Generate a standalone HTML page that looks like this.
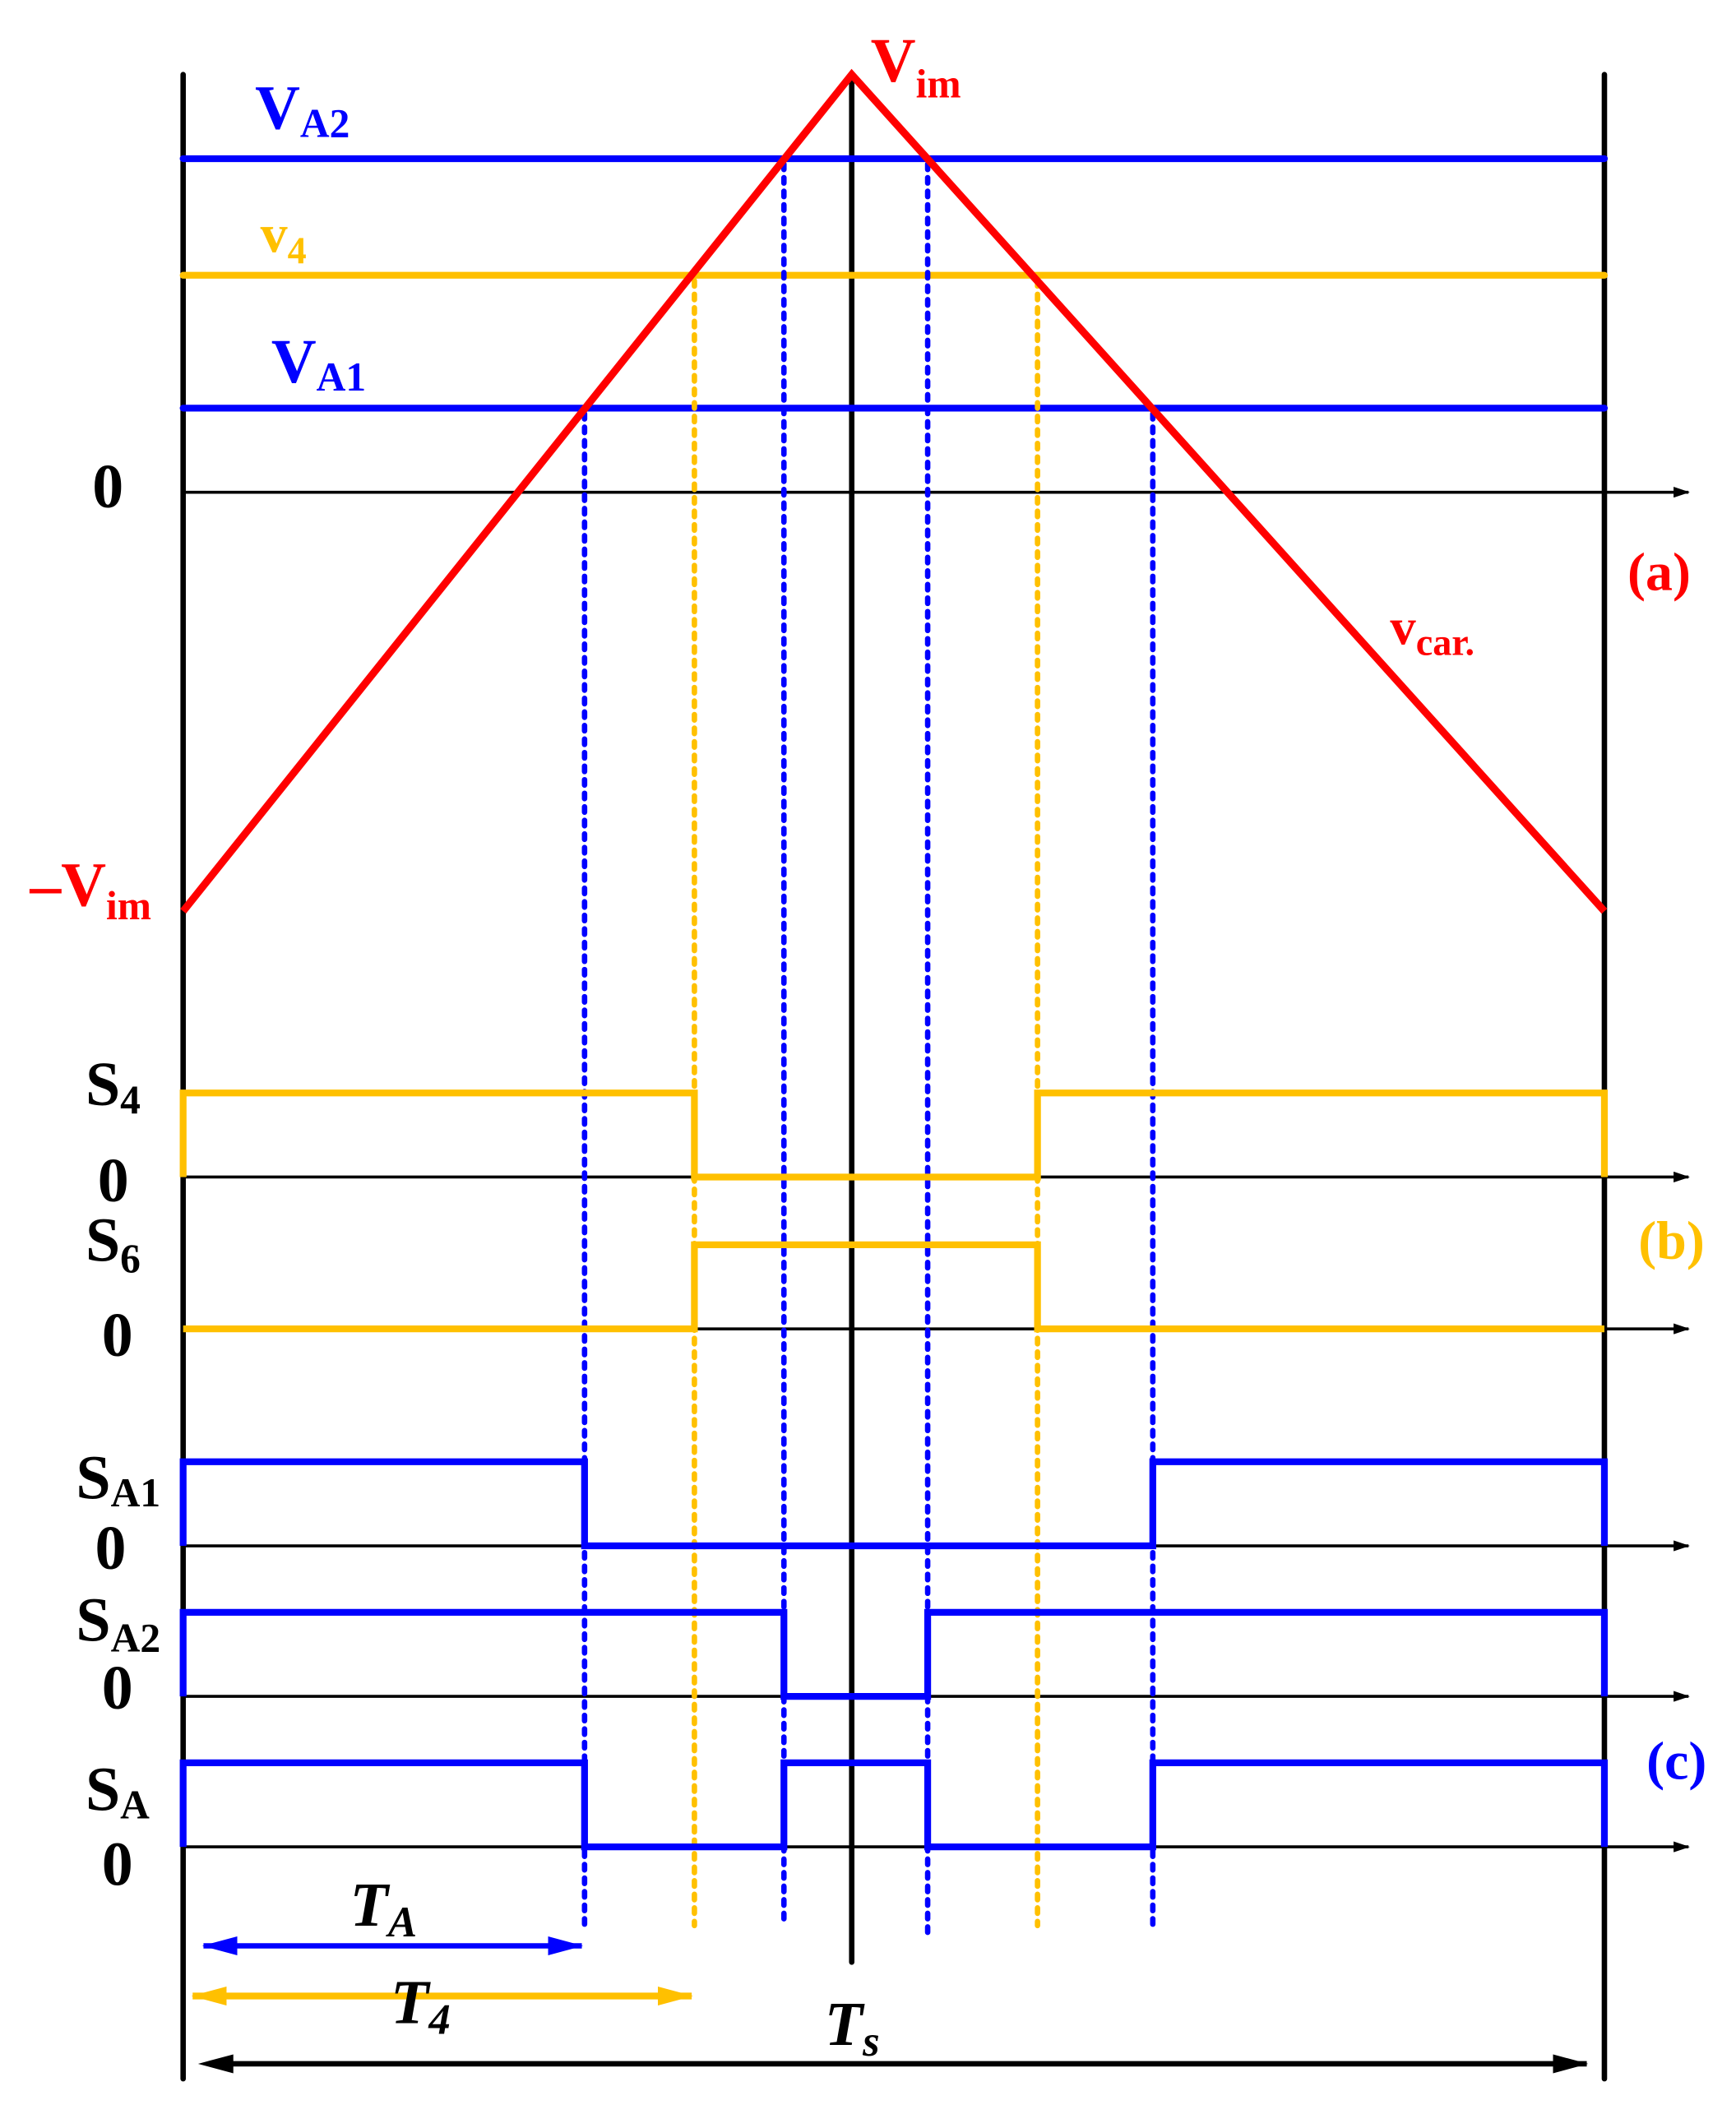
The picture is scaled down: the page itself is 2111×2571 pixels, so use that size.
<!DOCTYPE html>
<html><head><meta charset="utf-8"><style>
html,body{margin:0;padding:0;background:#fff;}
svg{display:block;}
text{font-family:"Liberation Serif",serif;font-weight:bold;}
</style></head><body>
<svg width="2111" height="2571" viewBox="0 0 1280 1559" xmlns="http://www.w3.org/2000/svg">
<defs>
<marker id="ak" markerWidth="12" markerHeight="8" refX="11" refY="4" orient="auto" markerUnits="userSpaceOnUse"><path d="M0,0 L12,4 L0,8 Z" fill="#000"/></marker>
<marker id="akL" markerWidth="26" markerHeight="14" refX="25" refY="7" orient="auto" markerUnits="userSpaceOnUse"><path d="M0,0 L26,7 L0,14 Z" fill="#000"/></marker>
<marker id="ab" markerWidth="26" markerHeight="14" refX="25" refY="7" orient="auto-start-reverse" markerUnits="userSpaceOnUse"><path d="M0,0 L26,7 L0,14 Z" fill="#0000ff"/></marker>
<marker id="ao" markerWidth="26" markerHeight="14" refX="25" refY="7" orient="auto-start-reverse" markerUnits="userSpaceOnUse"><path d="M0,0 L26,7 L0,14 Z" fill="#ffc000"/></marker>
</defs>
<g stroke="#000" stroke-width="4" stroke-linecap="round">
<line x1="135" y1="55" x2="135" y2="1533"/>
<line x1="1183" y1="55" x2="1183" y2="1533"/>
<line x1="628" y1="60" x2="628" y2="1447"/>
</g>
<g stroke="#000" stroke-width="2.2">
<line x1="135" y1="363" x2="1245" y2="363" marker-end="url(#ak)"/>
<line x1="135" y1="868" x2="1245" y2="868" marker-end="url(#ak)"/>
<line x1="135" y1="980" x2="1245" y2="980" marker-end="url(#ak)"/>
<line x1="135" y1="1140" x2="1245" y2="1140" marker-end="url(#ak)"/>
<line x1="135" y1="1251" x2="1245" y2="1251" marker-end="url(#ak)"/>
<line x1="135" y1="1362" x2="1245" y2="1362" marker-end="url(#ak)"/>
</g>
<g stroke-width="5" stroke-linecap="round">
<line x1="135" y1="117" x2="1183" y2="117" stroke="#0000ff"/>
<line x1="135" y1="203" x2="1183" y2="203" stroke="#ffc000"/>
<line x1="135" y1="301" x2="1183" y2="301" stroke="#0000ff"/>
</g>
<g stroke-width="4" stroke-dasharray="4 6" stroke-linecap="round" fill="none">
<line x1="431" y1="305" x2="431" y2="1420" stroke="#0000ff"/>
<line x1="512" y1="207" x2="512" y2="1420" stroke="#ffc000"/>
<line x1="578" y1="121" x2="578" y2="1420" stroke="#0000ff"/>
<line x1="684" y1="121" x2="684" y2="1425" stroke="#0000ff"/>
<line x1="765" y1="207" x2="765" y2="1420" stroke="#ffc000"/>
<line x1="850" y1="305" x2="850" y2="1420" stroke="#0000ff"/>
</g>
<polyline points="135,672 628,55 1183,672" fill="none" stroke="#ff0000" stroke-width="5.5"/>
<g fill="none" stroke-width="5">
<polyline stroke="#ffc000" points="135,868 135,806 512,806 512,868 765,868 765,806 1183,806 1183,868"/>
<polyline stroke="#ffc000" points="135,980 512,980 512,918 765,918 765,980 1183,980"/>
<polyline stroke="#0000ff" points="135,1140 135,1078 431,1078 431,1140 850,1140 850,1078 1183,1078 1183,1140"/>
<polyline stroke="#0000ff" points="135,1251 135,1189 578,1189 578,1251 684,1251 684,1189 1183,1189 1183,1251"/>
<polyline stroke="#0000ff" points="135,1362 135,1300 431,1300 431,1362 578,1362 578,1300 684,1300 684,1362 850,1362 850,1300 1183,1300 1183,1362"/>
</g>
<line x1="150" y1="1435" x2="429" y2="1435" stroke="#0000ff" stroke-width="4" marker-start="url(#ab)" marker-end="url(#ab)"/>
<line x1="142" y1="1472" x2="510" y2="1472" stroke="#ffc000" stroke-width="5" marker-start="url(#ao)" marker-end="url(#ao)"/>
<line x1="160" y1="1522" x2="1170" y2="1522" stroke="#000" stroke-width="4" marker-end="url(#akL)"/>
<path d="M146,1522 L172,1515 L172,1529 Z" fill="#000"/>
<g font-size="46">
<text x="188" y="95" fill="#0000ff">V<tspan font-size="30" dy="6">A2</tspan></text>
<text x="192" y="186" fill="#ffc000" font-size="40">v<tspan font-size="28" dy="8">4</tspan></text>
<text x="200" y="282" fill="#0000ff">V<tspan font-size="30" dy="6">A1</tspan></text>
<text x="68" y="374" fill="#000">0</text>
<text x="642" y="60" fill="#ff0000">V<tspan font-size="30" dy="12">im</tspan></text>
<text x="22" y="668" fill="#ff0000">–V<tspan font-size="30" dy="10">im</tspan></text>
<text x="1200" y="435" fill="#ff0000" font-size="40">(a)</text>
<text x="1025" y="475" fill="#ff0000" font-size="38">v<tspan font-size="28" dy="8">car.</tspan></text>
<text x="63" y="815">S<tspan font-size="30" dy="6">4</tspan></text>
<text x="72" y="886">0</text>
<text x="63" y="930">S<tspan font-size="30" dy="8">6</tspan></text>
<text x="75" y="1000">0</text>
<text x="1208" y="928" fill="#ffc000" font-size="40">(b)</text>
<text x="56" y="1105">S<tspan font-size="30" dy="6">A1</tspan></text>
<text x="70" y="1157">0</text>
<text x="56" y="1210">S<tspan font-size="30" dy="8">A2</tspan></text>
<text x="75" y="1260">0</text>
<text x="1214" y="1312" fill="#0000ff" font-size="40">(c)</text>
<text x="63" y="1335">S<tspan font-size="30" dy="6">A</tspan></text>
<text x="75" y="1390">0</text>
<text x="258" y="1420" font-style="italic">T<tspan font-size="32" dy="8">A</tspan></text>
<text x="288" y="1492" font-style="italic">T<tspan font-size="32" dy="8">4</tspan></text>
<text x="608" y="1508" font-style="italic">T<tspan font-size="32" dy="8">s</tspan></text>
</g>
</svg>
</body></html>
